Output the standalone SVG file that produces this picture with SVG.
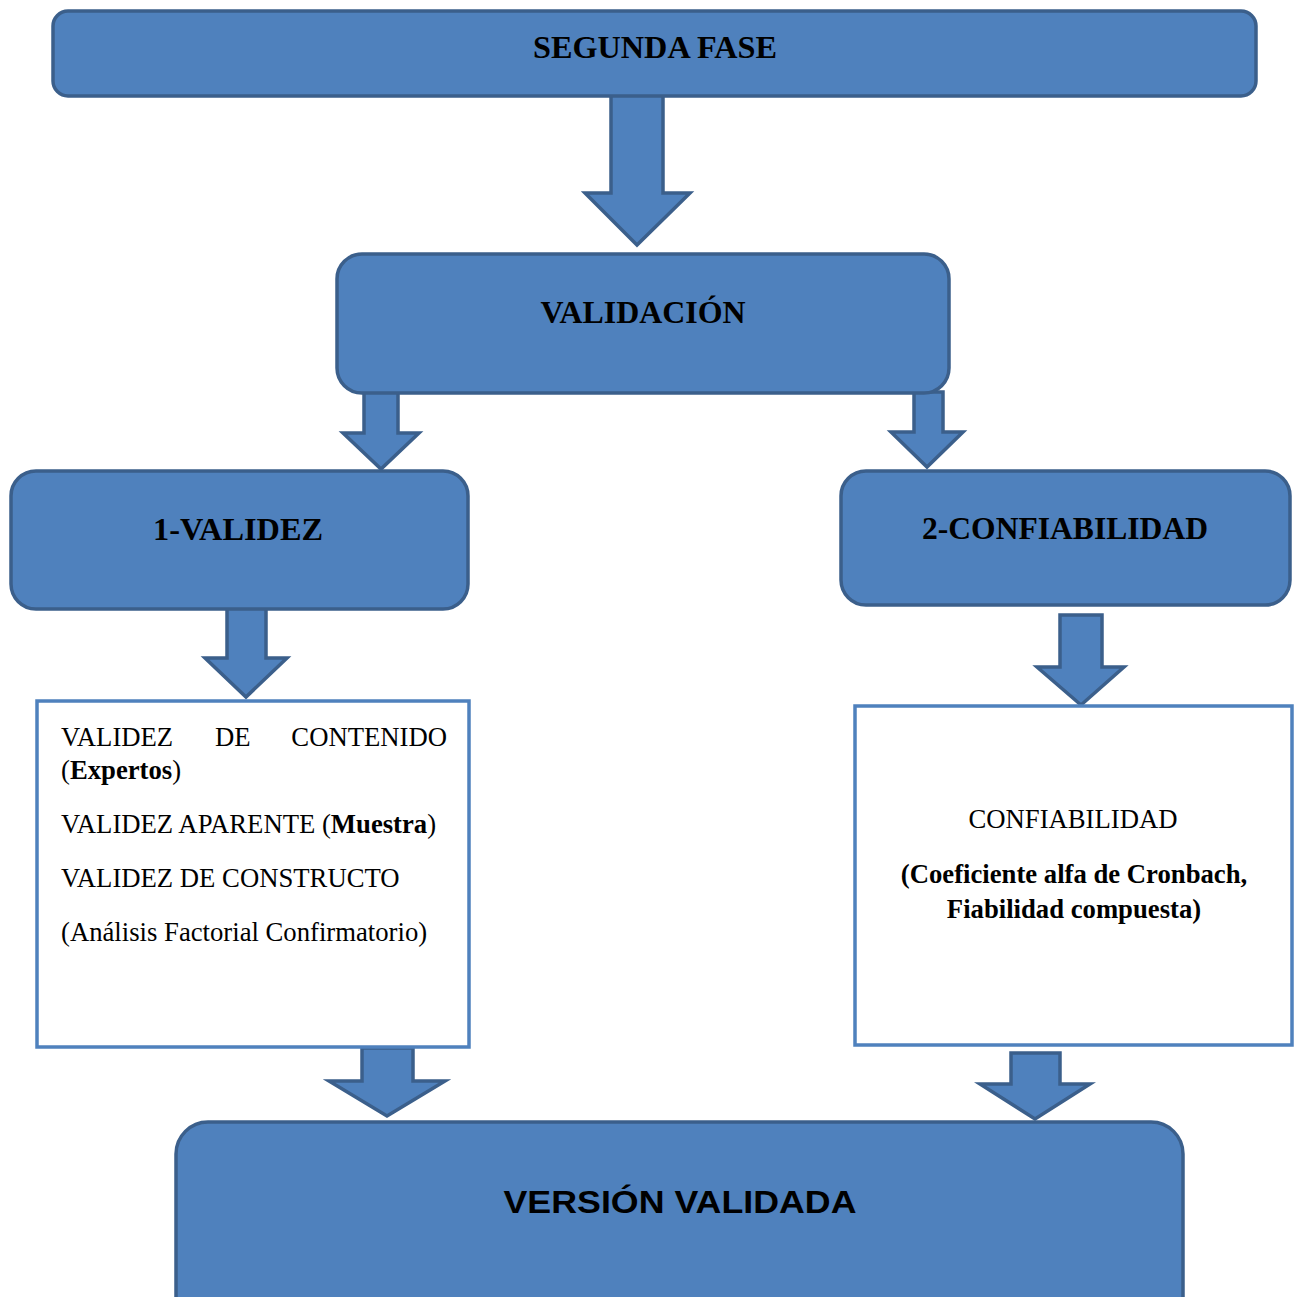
<svg xmlns="http://www.w3.org/2000/svg" width="1295" height="1297" viewBox="0 0 1295 1297">
  <style>
    .block { fill: #4F81BD; stroke: #3B5F8B; stroke-width: 3.5; }
    .panel { fill: #FFFFFF; stroke: #4F81BD; stroke-width: 3.5; }
    .arrow { fill: #4F81BD; stroke: #3B5F8B; stroke-width: 3.5; stroke-linejoin: miter; }
    .head { font-family: "Liberation Serif", "Times New Roman", serif; font-weight: bold; font-size: 31px; fill: #000; text-anchor: middle; }
    .body { font-family: "Liberation Serif", "Times New Roman", serif; font-size: 26.7px; fill: #000; }
    .b { font-weight: bold; }
    .final { font-family: "Liberation Sans", Arial, sans-serif; font-weight: bold; font-size: 32px; fill: #000; text-anchor: middle; }
  </style>
  <rect width="1295" height="1297" fill="#FFFFFF"/>

  <!-- block arrows between stages -->
  <g id="connectors">
    <polygon class="arrow" points="611,94 663,94 663,193 690,193 637,245 585,193 611,193"/>
    <polygon class="arrow" points="364,392 398,392 398,433 419,433 381,469 343,433 364,433"/>
    <polygon class="arrow" points="914,392 943,392 943,432 963,432 927,467 891,432 914,432"/>
    <polygon class="arrow" points="227,608 266,608 266,658 287,658 246,697 205,658 227,658"/>
    <polygon class="arrow" points="1060,615 1102,615 1102,667 1124,667 1081,705 1037,667 1060,667"/>
    <polygon class="arrow" points="362,1048 413,1048 413,1081 445,1081 387,1116 329,1081 362,1081"/>
    <polygon class="arrow" points="1011,1053 1060,1053 1060,1084 1090,1084 1035,1119 980,1084 1011,1084"/>
  </g>

  <g id="segunda-fase">
    <rect class="block" x="53" y="11" width="1203" height="85" rx="15"/>
    <text class="head" x="655" y="58" textLength="244" lengthAdjust="spacingAndGlyphs">SEGUNDA FASE</text>
  </g>

  <g id="validacion">
    <rect class="block" x="337" y="254" width="612" height="139" rx="25"/>
    <text class="head" x="643" y="323" textLength="205" lengthAdjust="spacingAndGlyphs">VALIDACIÓN</text>
  </g>

  <g id="validez">
    <rect class="block" x="11" y="471" width="457" height="138" rx="25"/>
    <text class="head" x="238" y="540" textLength="170" lengthAdjust="spacingAndGlyphs">1-VALIDEZ</text>
  </g>

  <g id="confiabilidad">
    <rect class="block" x="841" y="471" width="449" height="134" rx="25"/>
    <text class="head" x="1065" y="539" textLength="286" lengthAdjust="spacingAndGlyphs">2-CONFIABILIDAD</text>
  </g>

  <g id="validez-detalle">
    <rect class="panel" x="37" y="701" width="432" height="346"/>
    <text class="body" x="61" y="746">VALIDEZ</text>
    <text class="body" x="215" y="746">DE</text>
    <text class="body" x="447" y="746" text-anchor="end">CONTENIDO</text>
    <text class="body" x="61" y="779">(<tspan class="b">Expertos</tspan>)</text>
    <text class="body" x="61" y="833">VALIDEZ APARENTE (<tspan class="b">Muestra</tspan>)</text>
    <text class="body" x="61" y="887">VALIDEZ DE CONSTRUCTO</text>
    <text class="body" x="61" y="941">(Análisis Factorial Confirmatorio)</text>
  </g>

  <g id="confiabilidad-detalle">
    <rect class="panel" x="855" y="706" width="437" height="339"/>
    <text class="body" x="1073" y="828" text-anchor="middle">CONFIABILIDAD</text>
    <text class="body b" x="1074" y="883" text-anchor="middle">(Coeficiente alfa de Cronbach,</text>
    <text class="body b" x="1074" y="918" text-anchor="middle">Fiabilidad compuesta)</text>
  </g>

  <g id="version-validada">
    <rect class="block" x="176" y="1122" width="1007" height="220" rx="32"/>
    <text class="final" x="680" y="1213" textLength="353" lengthAdjust="spacingAndGlyphs">VERSIÓN VALIDADA</text>
  </g>
</svg>
